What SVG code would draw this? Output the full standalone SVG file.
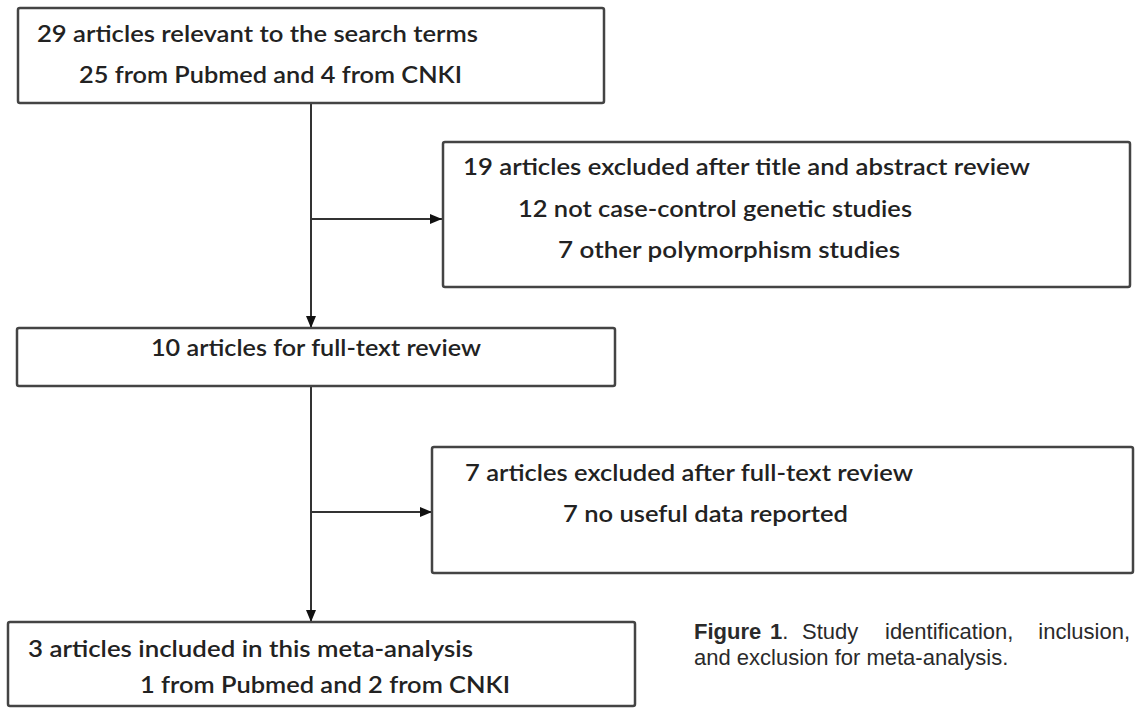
<svg xmlns="http://www.w3.org/2000/svg" width="1135" height="708" viewBox="0 0 1135 708">
<style>
.box{fill:#fff;stroke:#444;stroke-width:2.5}
.t{font-family:Lato,"Open Sans","Liberation Sans",sans-serif;font-size:22px;font-weight:600;fill:#222}
.line{stroke:#333;stroke-width:2;fill:none}
.cap{font-family:"Liberation Sans",Arial,sans-serif;font-size:22px;fill:#2a2a2a}
</style>
<defs>
<marker id="ah" viewBox="0 0 12 10" refX="12" refY="5" markerWidth="12" markerHeight="10" markerUnits="userSpaceOnUse" orient="auto">
<path d="M0,0 L12,5 L0,10 z" fill="#111"/>
</marker>
</defs>
<rect width="1135" height="708" fill="#fff"/>
<g id="connectors">
<line class="line" x1="311" y1="103" x2="311" y2="328" marker-end="url(#ah)"/>
<line class="line" x1="311" y1="219" x2="442" y2="219" marker-end="url(#ah)"/>
<line class="line" x1="311" y1="386" x2="311" y2="622" marker-end="url(#ah)"/>
<line class="line" x1="311" y1="512" x2="432" y2="512" marker-end="url(#ah)"/>
</g>
<g id="n1">
<rect class="box" x="18" y="8" width="586" height="95" rx="2"/>
<text class="t" x="37" y="42" textLength="441" lengthAdjust="spacingAndGlyphs">29 articles relevant to the search terms</text>
<text class="t" x="79" y="83" textLength="383" lengthAdjust="spacingAndGlyphs">25 from Pubmed and 4 from CNKI</text>
</g>
<g id="n2">
<rect class="box" x="443" y="142" width="687" height="145" rx="2"/>
<text class="t" x="463" y="175" textLength="567" lengthAdjust="spacingAndGlyphs">19 articles excluded after title and abstract review</text>
<text class="t" x="518" y="217" textLength="394" lengthAdjust="spacingAndGlyphs">12 not case-control genetic studies</text>
<text class="t" x="558" y="258" textLength="342" lengthAdjust="spacingAndGlyphs">7 other polymorphism studies</text>
</g>
<g id="n3">
<rect class="box" x="17" y="328" width="598" height="58" rx="2"/>
<text class="t" x="151" y="356" textLength="330" lengthAdjust="spacingAndGlyphs">10 articles for full-text review</text>
</g>
<g id="n4">
<rect class="box" x="432" y="447" width="701" height="126" rx="2"/>
<text class="t" x="465" y="481" textLength="448" lengthAdjust="spacingAndGlyphs">7 articles excluded after full-text review</text>
<text class="t" x="563" y="522" textLength="285" lengthAdjust="spacingAndGlyphs">7 no useful data reported</text>
</g>
<g id="n5">
<rect class="box" x="8" y="622" width="627" height="84" rx="2"/>
<text class="t" x="28" y="657" textLength="445" lengthAdjust="spacingAndGlyphs">3 articles included in this meta-analysis</text>
<text class="t" x="140" y="693" textLength="370" lengthAdjust="spacingAndGlyphs">1 from Pubmed and 2 from CNKI</text>
</g>
<g id="caption">
<text class="cap" y="639"><tspan x="694" font-weight="bold">Figure</tspan><tspan x="770" font-weight="bold">1</tspan><tspan>.</tspan><tspan x="802">Study</tspan><tspan x="885">identification,</tspan><tspan x="1130" text-anchor="end">inclusion,</tspan></text>
<text class="cap" x="694" y="665">and exclusion for meta-analysis.</text>
</g>
</svg>
